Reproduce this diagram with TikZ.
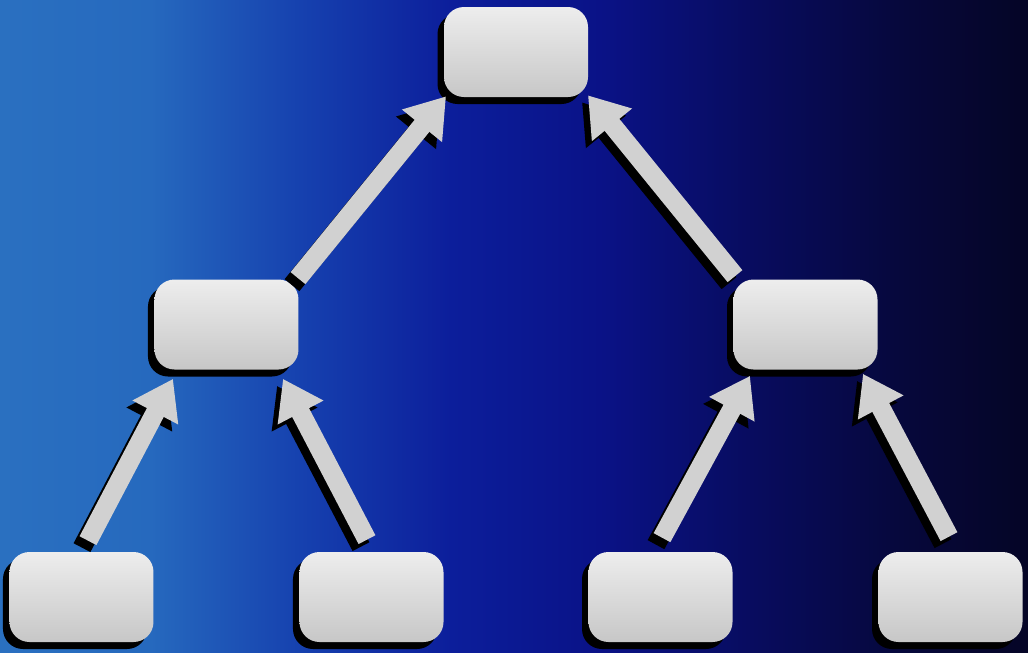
\documentclass[tikz,border=0pt]{standalone}
\usetikzlibrary{arrows.meta,shadows}

% backdrop: light blue on the left, deep blue, then navy to almost black
\pgfdeclarehorizontalshading{backdrop}{100bp}{%
  rgb(0bp)=(0.165,0.439,0.753);
  rgb(25bp)=(0.165,0.439,0.753);
  rgb(32.3bp)=(0.149,0.412,0.745);
  rgb(39.6bp)=(0.086,0.255,0.686);
  rgb(46.9bp)=(0.047,0.118,0.608);
  rgb(54.2bp)=(0.039,0.071,0.529);
  rgb(61.5bp)=(0.031,0.047,0.373);
  rgb(68.8bp)=(0.024,0.031,0.235);
  rgb(75bp)=(0.020,0.020,0.149);
  rgb(100bp)=(0.020,0.020,0.149)}

\begin{document}
\begin{tikzpicture}
      [level distance=5.45cm,
        level 1/.style={sibling distance=11.58cm},
        level 2/.style={sibling distance=5.8cm},
        edge from parent/.style={draw=none},
        box/.style={rounded corners=0.4cm, minimum width=2.88cm, minimum height=1.8cm,
          inner sep=0pt, top color=black!7, bottom color=black!22,
          drop shadow={shadow xshift=-0.13cm, shadow yshift=-0.14cm, fill=black, opacity=1}},
        link/.style={line width=0.38cm, draw=black!18,
          -{Triangle[length=0.76cm, width=0.98cm]}},
        linkshadow/.style={link, draw=black,
          transform canvas={xshift=-0.12cm, yshift=-0.14cm}}]
      % background
      \useasboundingbox (-10.32,-12) rectangle (10.24,1.04);
      \shade[shading=backdrop] (-10.32,-12) rectangle (10.24,1.04);
      % the tree
      \node[box] (root) at (0,0) {}
        child {node [box] (ml) {}
          child {node [box] (ll) {}}
          child {node [box] (lr) {}}
        }
        child {node [box] (mr) {}
          child {node [box] (rl) {}}
          child {node [box] (rr) {}}
        };
      % arrows from child up to parent
      \foreach \from/\fx/\fy/\to/\tx/\ty in
        {ll/0.13/0.22/ml/-1.07/-0.18, lr/-0.09/0.24/ml/1.13/-0.18,
         rl/0.03/0.28/mr/-1.11/-0.12, rr/-0.03/0.30/mr/1.15/-0.08,
         ml/1.43/0.02/root/-1.4/0.02, mr/-1.41/0.06/root/1.44/0.04}
      {
        \draw[linkshadow] ([xshift=\fx cm, yshift=\fy cm]\from.north)
          -- ([xshift=\tx cm, yshift=\ty cm]\to.south);
        \draw[link] ([xshift=\fx cm, yshift=\fy cm]\from.north)
          -- ([xshift=\tx cm, yshift=\ty cm]\to.south);
      }
\end{tikzpicture}
\end{document}
